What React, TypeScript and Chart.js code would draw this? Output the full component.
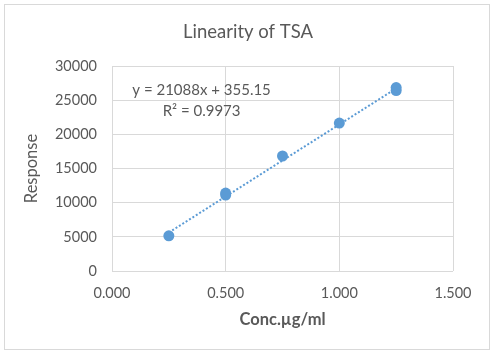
import React, { useEffect, useRef } from "react";
import { Chart, registerables } from "chart.js";

Chart.register(...registerables);

const concX = [0.25, 0.5, 0.5, 0.75, 1.0, 1.25, 1.25];
const response = [5150, 11120, 11410, 16830, 21650, 26410, 26850];
const trendX = [0.25, 1.25];
const trendY = [5627, 26715];
const chartTitle = "Linearity of TSA";
const equationLines = ["y = 21088x + 355.15", "R² = 0.9973"];
const equationPos = { x: 0.394, y: [26480, 23410] };

const TEXT = "#595959";
const GRID = "#d9d9d9";
const BLUE = "#5b9bd5";
const FONT = "Lato";

const framePlugin = {
  id: "frame",
  beforeDraw(chart: any) {
    const ctx = chart.ctx;
    ctx.save();
    ctx.fillStyle = "#ffffff";
    ctx.fillRect(0, 0, chart.width, chart.height);
    ctx.strokeStyle = GRID;
    ctx.lineWidth = 1;
    ctx.strokeRect(4.5, 4.5, 485, 345);
    ctx.fillStyle = TEXT;
    ctx.font = `18.5px ${FONT}`;
    ctx.textAlign = "center";
    ctx.textBaseline = "middle";
    ctx.fillText(chartTitle, chart.width / 2, 32);
    ctx.restore();
  },
  afterDatasetsDraw(chart: any) {
    const ctx = chart.ctx;
    const xs = chart.scales.x;
    const ys = chart.scales.y;
    ctx.save();
    ctx.fillStyle = TEXT;
    ctx.font = `15px ${FONT}`;
    ctx.textAlign = "center";
    ctx.textBaseline = "middle";
    equationLines.forEach((t, i) => {
      ctx.fillText(t, xs.getPixelForValue(equationPos.x), ys.getPixelForValue(equationPos.y[i]));
    });
    ctx.restore();
  },
};

export default function App() {
  const ref = useRef<HTMLCanvasElement>(null);
  useEffect(() => {
    if (!ref.current) return;
    const chart = new Chart(ref.current, {
      type: "scatter",
      data: {
        datasets: [
          {
            label: "Trend",
            data: trendX.map((x, i) => ({ x, y: trendY[i] })),
            showLine: true,
            borderColor: BLUE,
            borderWidth: 2,
            borderDash: [2, 2],
            pointRadius: 0,
            fill: false,
            order: 2,
          },
          {
            label: "Response",
            data: concX.map((x, i) => ({ x, y: response[i] })),
            backgroundColor: BLUE,
            borderColor: BLUE,
            pointRadius: 5.5,
            pointBorderWidth: 0,
            order: 1,
          },
        ],
      },
      options: {
        responsive: false,
        animation: false,
        devicePixelRatio: 1,
        layout: { padding: { left: 0, right: 43, top: 66, bottom: 0 } },
        plugins: {
          legend: { display: false },
          tooltip: { enabled: false },
          title: { display: false },
        },
        scales: {
          x: {
            type: "linear",
            min: 0,
            max: 1.5,
            ticks: {
              stepSize: 0.5,
              color: TEXT,
              padding: 14,
              font: { family: FONT, size: 14.5 },
              callback: (v: any) => Number(v).toFixed(3),
            },
            grid: { color: GRID, drawTicks: false },
            border: { display: false },
            title: {
              display: true,
              text: "Conc.µg/ml",
              color: TEXT,
              font: { family: FONT, size: 16.5, weight: "bold" },
              padding: { top: 0, bottom: 27 },
            },
            afterFit: (s: any) => {
              s.height = 86;
            },
          },
          y: {
            type: "linear",
            min: 0,
            max: 30000,
            ticks: {
              stepSize: 5000,
              color: TEXT,
              padding: 15,
              font: { family: FONT, size: 14.5 },
              callback: (v: any) => String(v),
            },
            grid: { color: GRID, drawTicks: false },
            border: { display: false },
            title: {
              display: true,
              text: "Response",
              color: TEXT,
              font: { family: FONT, size: 16.5, weight: "normal" },
              padding: { top: 22, bottom: 0 },
            },
            afterFit: (s: any) => {
              s.width = 112;
            },
          },
        },
      },
      plugins: [framePlugin],
    });
    return () => chart.destroy();
  }, []);
  return (
    <div style={{ position: "absolute", left: 0, top: 0, width: 496, height: 357 }}>
      <canvas ref={ref} width={496} height={357} style={{ width: 496, height: 357, display: "block" }} />
    </div>
  );
}
